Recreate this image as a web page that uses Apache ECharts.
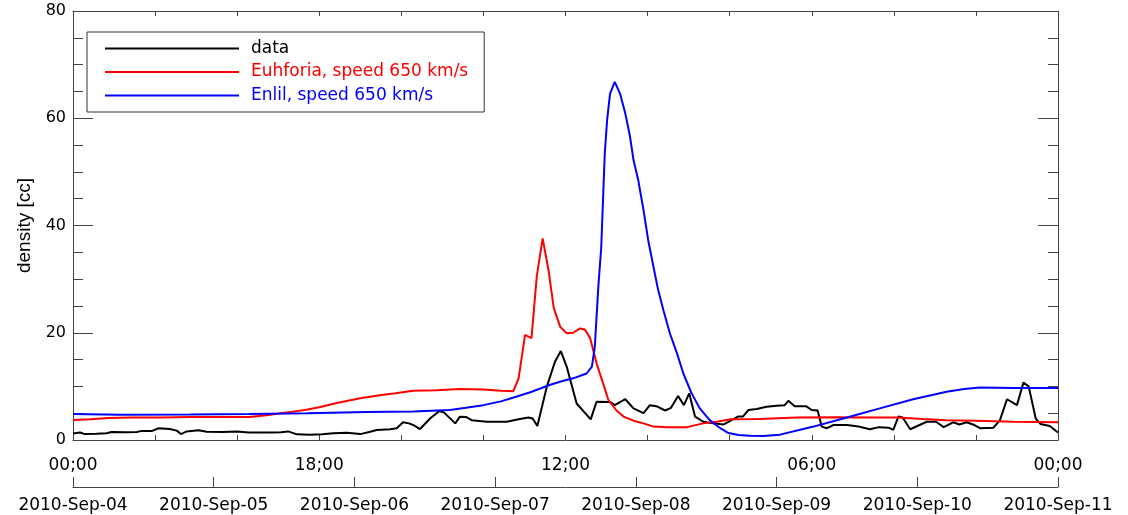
<!DOCTYPE html>
<html>
<head>
<meta charset="utf-8">
<script src="https://cdn.jsdelivr.net/npm/echarts@6/dist/echarts.min.js"></script>
<style>
  html, body { margin: 0; padding: 0; background: #fff; }
  #chart { width: 1128px; height: 515px; }
</style>
</head>
<body>
<div id="chart"></div>
<script>
// Hours since 2010-09-04 00:00 UT, and density [cc]
const dataHours = [0, 1.2, 2, 4, 5.7, 6.6, 9, 10.9, 11.7, 13.5, 14.6, 16.5, 17.7, 18.4, 19.4, 21.4, 22.8, 25.6, 27.9, 30, 33.6, 35.5, 36.7, 38.2, 40.4, 42.5, 44.4, 46.7, 49, 50.7, 51.8, 54.1, 55.2, 56.3, 57.3, 58, 59.2, 60.9, 62.5, 63.3, 65.2, 66, 67, 68, 70.6, 74, 76.2, 77.7, 78.4, 79.2, 80.8, 82.2, 83.2, 84.2, 85.9, 88.3, 89.3, 91.6, 92.4, 94.2, 95.6, 97.3, 98.4, 99.5, 101, 102, 103.2, 104.2, 105.1, 106.1, 107.5, 109.2, 111, 112.3, 113.5, 114.3, 115.2, 116.6, 118.3, 120, 121.4, 122, 123.1, 125, 126, 127, 127.7, 128.6, 129.7, 132, 134, 135.9, 137.5, 139.1, 139.9, 140.8, 141.5, 142.8, 145.6, 147.2, 148.5, 150.1, 151.2, 152.4, 153.5, 154.7, 157, 158.1, 159.3, 161, 162.1, 163, 164.2, 165, 166.6, 168];
const dataDensity = [1.2, 1.4, 1.1, 1.15, 1.25, 1.5, 1.45, 1.5, 1.7, 1.7, 2.2, 2.05, 1.75, 1.1, 1.6, 1.8, 1.55, 1.5, 1.6, 1.4, 1.4, 1.45, 1.6, 1.05, 1.0, 1.05, 1.25, 1.35, 1.1, 1.55, 1.85, 2.0, 2.2, 3.3, 3.1, 2.8, 2.05, 4.0, 5.4, 5.1, 3.1, 4.35, 4.3, 3.7, 3.4, 3.4, 3.9, 4.2, 4.0, 2.6, 9.9, 14.6, 16.6, 13.7, 6.8, 3.85, 7.15, 7.1, 6.5, 7.6, 5.9, 5.0, 6.5, 6.3, 5.5, 6.0, 8.2, 6.5, 8.7, 4.35, 3.4, 3.1, 2.9, 3.7, 4.4, 4.4, 5.6, 5.8, 6.2, 6.4, 6.5, 7.3, 6.3, 6.3, 5.6, 5.5, 2.5, 2.2, 2.8, 2.8, 2.5, 2.0, 2.4, 2.3, 1.9, 4.4, 4.2, 2.0, 3.4, 3.4, 2.4, 3.3, 2.9, 3.3, 2.9, 2.2, 2.3, 3.7, 7.6, 6.5, 10.7, 10.0, 4.0, 3.0, 2.6, 1.4];

const euhforiaHours = [0, 3, 6, 10, 15, 20, 25, 30, 33, 37, 40, 42, 45, 49, 52, 55, 58, 62, 66, 70, 73, 75.1, 76, 77.1, 78.2, 79.1, 80.1, 81.1, 82, 83.1, 84.2, 85.3, 86.5, 87.3, 88.2, 89.3, 90.4, 91.3, 92.7, 94, 95.6, 97.3, 99, 101.3, 104.7, 107.5, 109.8, 112.1, 117, 123.4, 130, 137, 140.5, 145, 149, 154, 160.4, 168];
const euhforiaDensity = [3.75, 3.85, 4.1, 4.2, 4.2, 4.3, 4.3, 4.3, 4.6, 5.2, 5.7, 6.1, 6.9, 7.8, 8.3, 8.7, 9.2, 9.3, 9.5, 9.4, 9.2, 9.1, 11.5, 19.6, 19.0, 30.5, 37.6, 31.7, 24.6, 21.1, 19.9, 20.0, 20.8, 20.6, 19.0, 14.3, 10.6, 7.5, 5.5, 4.3, 3.6, 3.1, 2.5, 2.4, 2.4, 3.1, 3.4, 3.85, 3.9, 4.2, 4.25, 4.2, 4.2, 3.9, 3.7, 3.6, 3.4, 3.3];

const enlilHours = [0, 8, 20, 30, 40, 50, 58, 64.3, 67, 70, 73, 75.7, 78, 81.4, 83.5, 85.3, 87.6, 88.5, 89, 89.6, 90.1, 90.7, 91.1, 91.6, 92.4, 93.3, 94.2, 95, 95.6, 96.4, 97.3, 98.1, 99, 99.8, 100.7, 101.8, 103, 104.1, 105.5, 106.9, 108.6, 110.4, 111.8, 113.5, 115.5, 117.7, 120.6, 126.3, 132, 137.6, 143.3, 149, 152, 154.7, 160.4, 168];
const enlilDensity = [4.85, 4.7, 4.75, 4.85, 5.0, 5.2, 5.3, 5.6, 6.0, 6.5, 7.2, 8.1, 8.9, 10.3, 11.0, 11.5, 12.4, 13.7, 17.4, 28.6, 36.0, 53.5, 59.7, 64.6, 66.8, 64.6, 60.9, 56.6, 52.2, 48.5, 42.9, 37.3, 32.3, 28.0, 24.2, 19.9, 16.2, 12.4, 8.7, 5.9, 3.7, 2.2, 1.3, 0.95, 0.8, 0.75, 1.0, 2.5, 4.2, 5.9, 7.6, 9.0, 9.5, 9.8, 9.7, 9.7];

// Tick labels: time of day every 42 h, calendar day every 24 h
const timeTickLabels = ['00;00', '18;00', '12;00', '06;00', '00;00'];
const dateTickLabels = ['2010-Sep-04', '2010-Sep-05', '2010-Sep-06', '2010-Sep-07', '2010-Sep-08', '2010-Sep-09', '2010-Sep-10', '2010-Sep-11'];

const seriesNames = ['data', 'Euhforia, speed 650 km/s', 'Enlil, speed 650 km/s'];
const seriesColors = ['#000000', '#ff0000', '#0000ff'];

const zip = (xs, ys) => xs.map((x, i) => [x, ys[i]]);

const tickFont = 'DejaVu Sans';
const axisColor = '#444';

const chart = echarts.init(document.getElementById('chart'), null, { renderer: 'canvas' });

const xBase = {
  type: 'value', min: 0, max: 168, interval: 14,
  splitLine: { show: false },
  axisLine: { show: true, onZero: false, lineStyle: { color: axisColor, width: 1 } },
  axisTick: { show: true, inside: true, length: 5, lineStyle: { color: axisColor } }
};
const yBase = {
  type: 'value', min: 0, max: 80, interval: 20,
  splitLine: { show: false },
  axisLine: { show: true, onZero: false, lineStyle: { color: axisColor, width: 1 } },
  axisTick: { show: true, inside: true, length: 20, lineStyle: { color: axisColor } },
  minorTick: { show: true, splitNumber: 4, length: 10, lineStyle: { color: axisColor } }
};

chart.setOption({
  animation: false,
  backgroundColor: '#fff',
  grid: { left: 73, right: 70, top: 11, bottom: 75, containLabel: false, outerBoundsMode: 'none' },
  legend: {
    orient: 'vertical',
    left: 87, top: 32,
    padding: [8, 16, 8, 18],
    itemWidth: 134, itemHeight: 2, itemGap: 6.5,
    icon: 'rect',
    borderColor: '#333', borderWidth: 1, backgroundColor: '#fff',
    textStyle: { fontFamily: tickFont, fontSize: 17, lineHeight: 14, padding: [0, 0, 0, 7] },
    data: seriesNames.map((n, i) => ({
      name: n,
      itemStyle: { color: seriesColors[i], borderWidth: 0 },
      textStyle: { color: seriesColors[i] }
    }))
  },
  xAxis: [
    Object.assign({}, xBase, {
      position: 'bottom',
      axisLabel: {
        show: true, margin: 17, color: '#000', fontFamily: tickFont, fontSize: 17,
        showMinLabel: true, showMaxLabel: true,
        formatter: v => (v % 42 === 0 ? timeTickLabels[v / 42] : '')
      }
    }),
    Object.assign({}, xBase, { position: 'top', axisLabel: { show: false } }),
    {
      type: 'value', min: 0, max: 168, interval: 24,
      position: 'bottom', offset: 47,
      splitLine: { show: false },
      axisLine: { show: true, onZero: false, lineStyle: { color: axisColor, width: 1 } },
      axisTick: { show: true, inside: true, length: 10, lineStyle: { color: axisColor } },
      axisLabel: {
        show: true, margin: 10, color: '#000', fontFamily: tickFont, fontSize: 17,
        showMinLabel: true, showMaxLabel: true,
        formatter: v => dateTickLabels[v / 24]
      }
    }
  ],
  yAxis: [
    Object.assign({}, yBase, {
      position: 'left',
      name: 'density [cc]', nameLocation: 'middle', nameGap: 37, nameRotate: 90,
      nameTextStyle: { fontFamily: 'Liberation Sans', fontSize: 19, color: '#000' },
      axisLabel: { show: true, margin: 7, color: '#000', fontFamily: tickFont, fontSize: 16 }
    }),
    Object.assign({}, yBase, { position: 'right', axisLabel: { show: false } })
  ],
  series: [
    { name: seriesNames[0], type: 'line', data: zip(dataHours, dataDensity) },
    { name: seriesNames[1], type: 'line', data: zip(euhforiaHours, euhforiaDensity) },
    { name: seriesNames[2], type: 'line', data: zip(enlilHours, enlilDensity) }
  ].map((s, i) => Object.assign(s, {
    xAxisIndex: 0, yAxisIndex: 0,
    symbol: 'none', smooth: false,
    color: seriesColors[i],
    lineStyle: { color: seriesColors[i], width: 2 }
  }))
});
</script>
</body>
</html>
